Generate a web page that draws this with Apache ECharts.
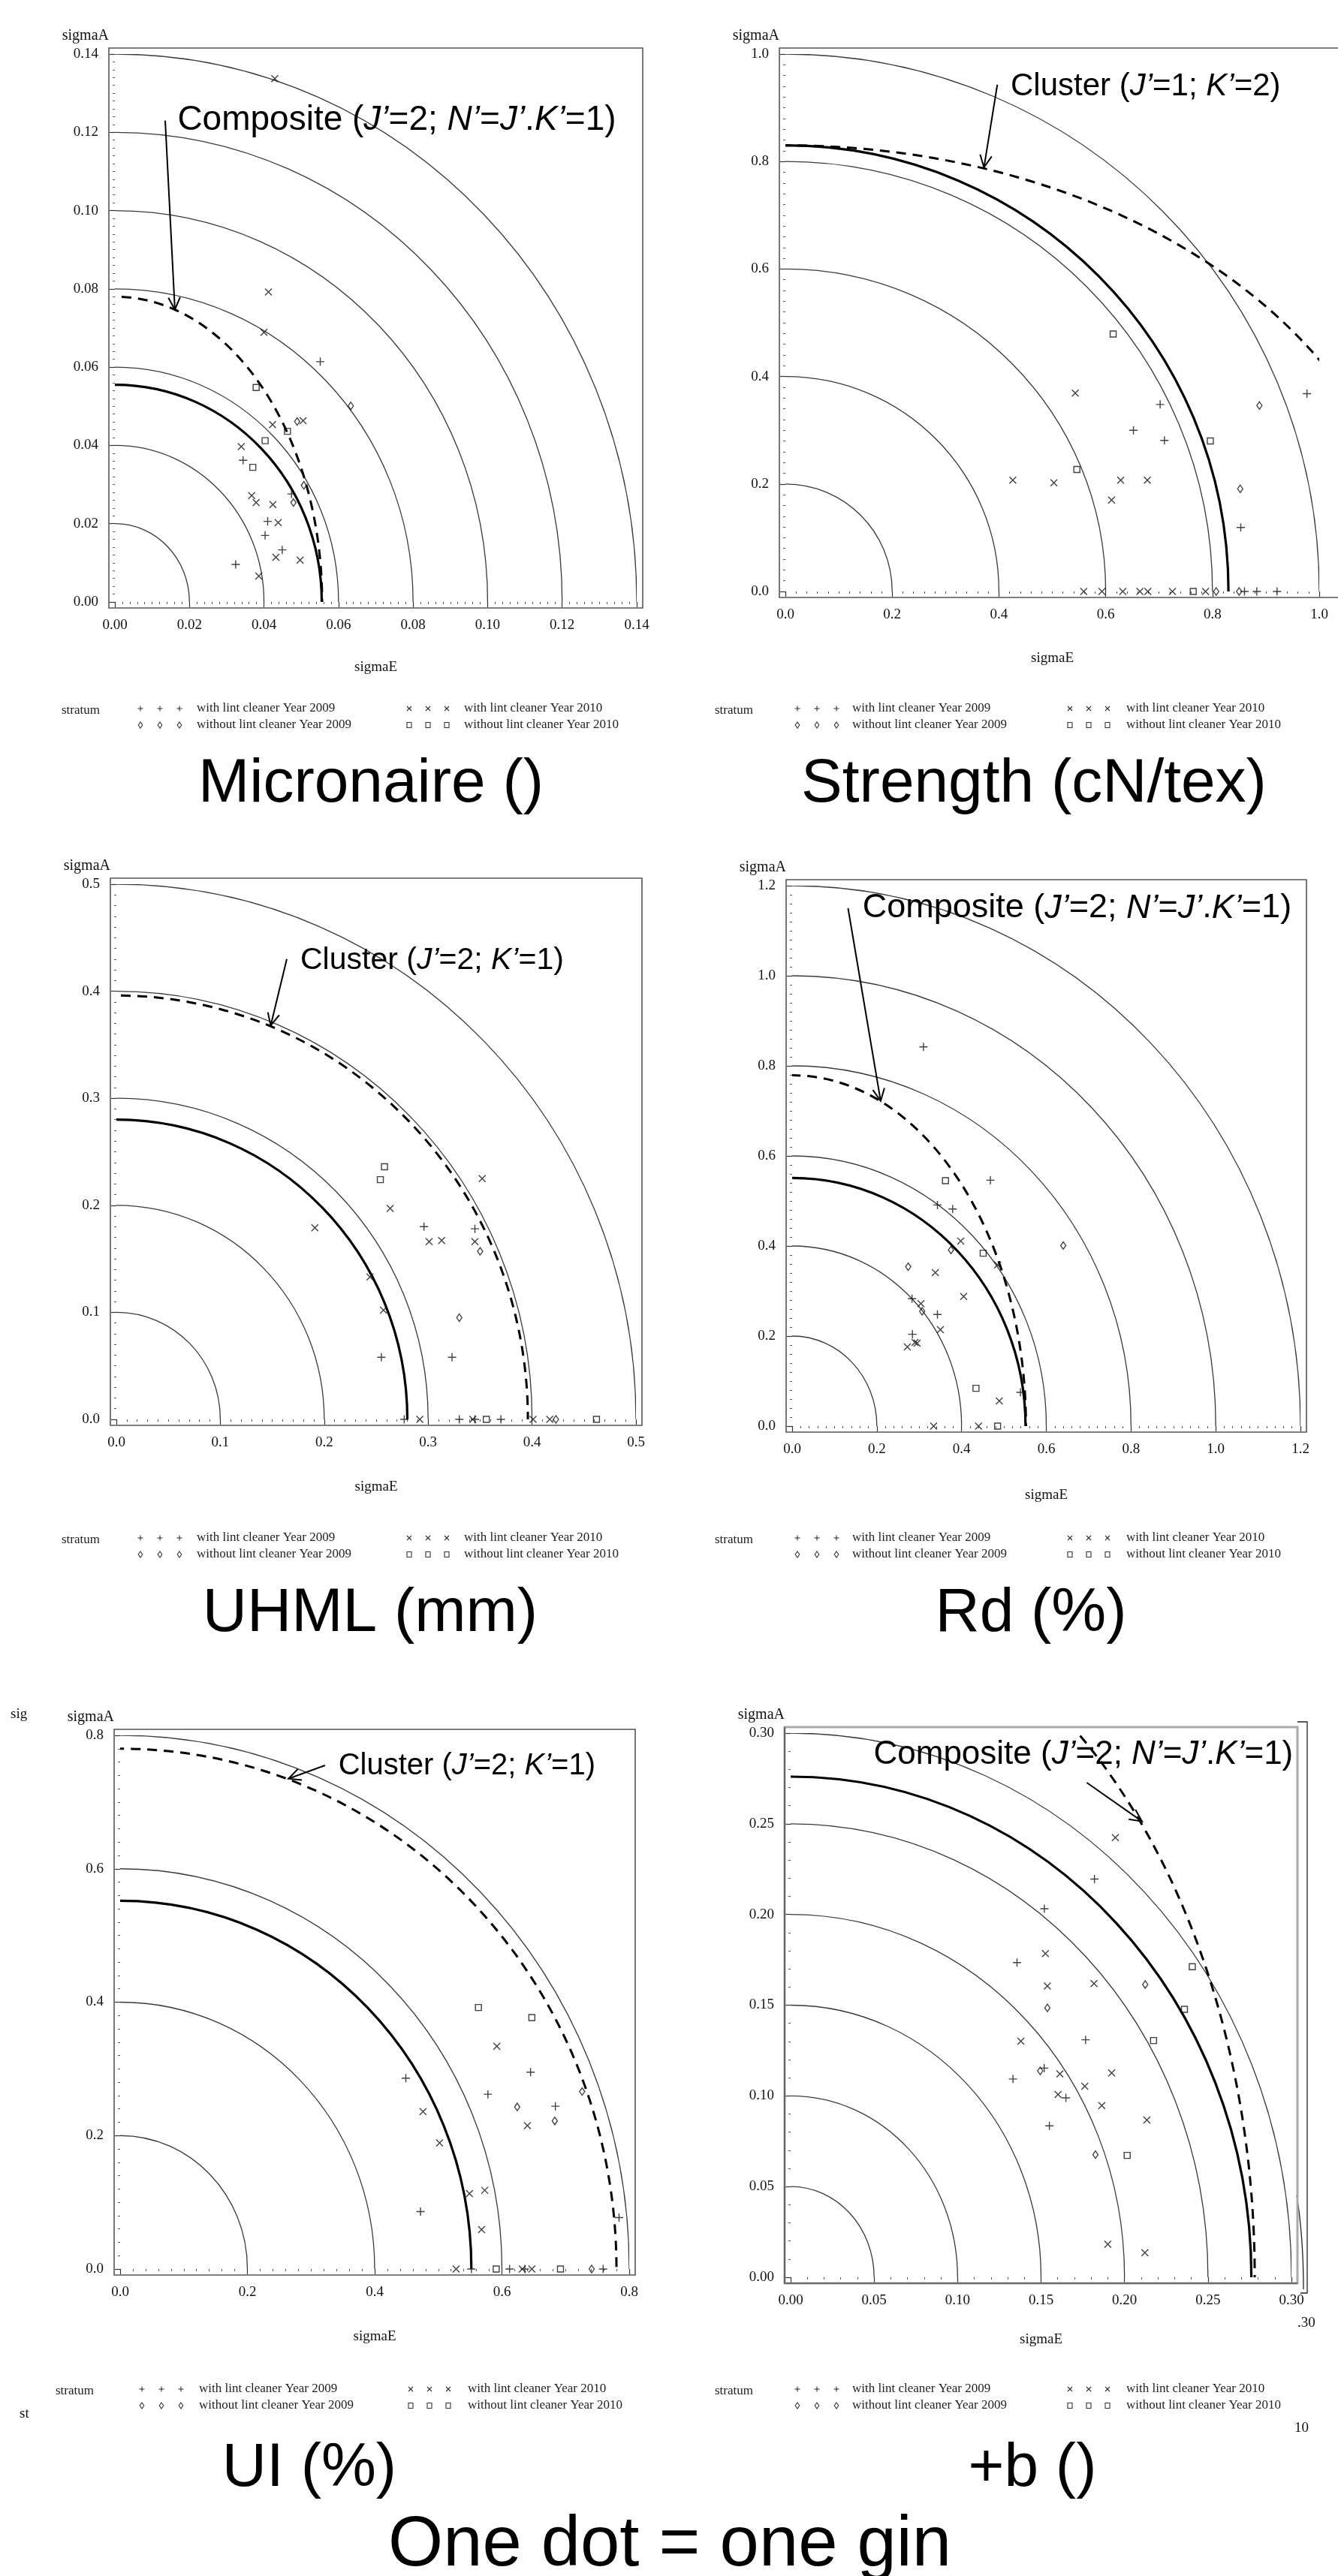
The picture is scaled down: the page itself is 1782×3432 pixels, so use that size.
<!DOCTYPE html>
<html><head><meta charset="utf-8">
<script src="https://cdn.jsdelivr.net/npm/echarts@6/dist/echarts.min.js"></script>
<style>html,body{margin:0;padding:0;background:#fff}#c{width:1782px;height:3432px}</style>
</head><body><div id="c"></div><script>
// ---------------- DATA ----------------
const panelTitles = ['Micronaire ()', 'Strength (cN/tex)', 'UHML (mm)', 'Rd (%)', 'UI (%)', '+b ()'];
const footer = 'One dot = one gin';
const legendLabels = ['with lint cleaner Year 2009', 'without lint cleaner Year 2009', 'with lint cleaner Year 2010', 'without lint cleaner Year 2010'];
const axisMax = [0.14, 1.0, 0.5, 1.2, 0.8, 0.30];
const axisStep = [0.02, 0.2, 0.1, 0.2, 0.2, 0.05];
const axisDecimals = [2, 1, 1, 1, 1, 2];

// reference circles (sigmaE^2 + sigmaA^2 = r^2)
const micRings = [0.02, 0.04, 0.06, 0.08, 0.10, 0.12, 0.14];
const strRings = [0.2, 0.4, 0.6, 0.8, 1.0];
const uhmlRings = [0.1, 0.2, 0.3, 0.4, 0.5];
const rdRings = [0.2, 0.4, 0.6, 0.8, 1.0, 1.2];
const uiRings = [0.2, 0.4, 0.6, 0.8];
const bRings = [0.05, 0.10, 0.15, 0.20, 0.25, 0.30];
// bold solid reference curve radius
const solidRadius = [0.0555, 0.83, 0.28, 0.551, 0.552, 0.276];
// dashed curve semi-axes [sigmaE, sigmaA]
const dashedAxes = [[0.0556, 0.078], [1.17, 0.83], [0.396, 0.396], [0.552, 0.779], [0.78, 0.78], [0.278, 0.382]];

// Micronaire
const micPlus09 = [[0.0551,0.0614],[0.0344,0.0362],[0.0474,0.0276],[0.0410,0.0206],[0.0403,0.0170],[0.0449,0.0133],[0.0324,0.0096]];
const micCross10 = [[0.0429,0.1337],[0.0412,0.0792],[0.0400,0.0689],[0.0423,0.0453],[0.0505,0.0463],[0.0339,0.0397],[0.0367,0.0272],[0.0379,0.0254],[0.0424,0.0249],[0.0438,0.0203],[0.0432,0.0114],[0.0497,0.0107],[0.0386,0.0066]];
const micDiam09 = [[0.0633,0.0501],[0.0489,0.0461],[0.0507,0.0298],[0.0479,0.0254]];
const micSq10 = [[0.0379,0.0548],[0.0463,0.0436],[0.0403,0.0412],[0.0370,0.0344]];
// Strength
const strPlus09 = [[0.977,0.368],[0.702,0.348],[0.652,0.300],[0.710,0.281],[0.853,0.119],[0.860,0],[0.883,0],[0.921,0]];
const strCross10 = [[0.543,0.369],[0.426,0.207],[0.503,0.202],[0.628,0.207],[0.678,0.207],[0.611,0.170],[0.559,0],[0.593,0],[0.632,0],[0.664,0],[0.679,0],[0.725,0],[0.787,0]];
const strDiam09 = [[0.888,0.346],[0.852,0.191],[0.807,0],[0.850,0]];
const strSq10 = [[0.614,0.479],[0.796,0.280],[0.546,0.227],[0.764,0]];
// UHML
const uhmlPlus09 = [[0.296,0.180],[0.345,0.178],[0.255,0.058],[0.323,0.058],[0.277,0],[0.330,0],[0.345,0],[0.370,0]];
const uhmlCross10 = [[0.352,0.225],[0.2635,0.197],[0.191,0.179],[0.301,0.166],[0.313,0.167],[0.345,0.166],[0.244,0.133],[0.257,0.102],[0.292,0],[0.343,0],[0.401,0],[0.417,0]];
const uhmlDiam09 = [[0.350,0.157],[0.330,0.095],[0.423,0]];
const uhmlSq10 = [[0.258,0.236],[0.254,0.224],[0.356,0],[0.462,0]];
// Rd
const rdPlus09 = [[0.310,0.842],[0.468,0.546],[0.343,0.491],[0.379,0.482],[0.283,0.283],[0.343,0.248],[0.284,0.204],[0.539,0.075]];
const rdCross10 = [[0.398,0.411],[0.338,0.341],[0.485,0.358],[0.405,0.288],[0.304,0.272],[0.350,0.214],[0.295,0.184],[0.290,0.186],[0.272,0.176],[0.489,0.056],[0.334,0],[0.440,0]];
const rdDiam09 = [[0.375,0.391],[0.640,0.401],[0.274,0.354],[0.307,0.255]];
const rdSq10 = [[0.362,0.545],[0.451,0.384],[0.434,0.084],[0.485,0]];
// UI
const uiPlus09 = [[0.449,0.286],[0.645,0.295],[0.578,0.262],[0.684,0.244],[0.472,0.086],[0.784,0.077],[0.552,0],[0.612,0],[0.636,0],[0.759,0]];
const uiCross10 = [[0.592,0.334],[0.476,0.236],[0.640,0.215],[0.502,0.189],[0.549,0.113],[0.573,0.118],[0.568,0.059],[0.528,0],[0.632,0],[0.647,0]];
const uiDiam09 = [[0.726,0.266],[0.624,0.243],[0.683,0.222],[0.741,0]];
const uiSq10 = [[0.563,0.392],[0.647,0.377],[0.591,0],[0.692,0]];
// +b
const bPlus09 = [[0.182,0.2195],[0.152,0.2032],[0.1356,0.1735],[0.1767,0.1309],[0.1519,0.1153],[0.1332,0.1093],[0.1649,0.0989],[0.155,0.0835]];
const bCross10 = [[0.1945,0.2424],[0.1526,0.1784],[0.1538,0.1606],[0.1817,0.1619],[0.1379,0.1301],[0.1613,0.1121],[0.1923,0.1127],[0.1762,0.1053],[0.1602,0.1008],[0.1864,0.0947],[0.2134,0.0867],[0.19,0.0182],[0.2122,0.0136]];
const bDiam09 = [[0.2124,0.1614],[0.1538,0.1485],[0.1495,0.1138],[0.1826,0.0676]];
const bSq10 = [[0.2406,0.1712],[0.2359,0.1477],[0.2174,0.1305],[0.2016,0.0672]];

// annotations: label, text anchor [x,y], arrow from [x,y] to [x,y] (data coords)
const annotLabels = [
  'Composite ({i|J’}=2; {i|N’}={i|J’}.{i|K’}=1)',
  'Cluster ({i|J’}=1; {i|K’}=2)',
  'Cluster ({i|J’}=2; {i|K’}=1)',
  'Composite ({i|J’}=2; {i|N’}={i|J’}.{i|K’}=1)',
  'Cluster ({i|J’}=2; {i|K’}=1)',
  'Composite ({i|J’}=2; {i|N’}={i|J’}.{i|K’}=1)'
];
const annotAnchor = [[0.0168,0.123],[0.422,0.939],[0.177,0.429],[0.166,1.150],[0.343,0.754],[0.0497,0.288]];
const arrowFrom = [[0.0135,0.123],[0.397,0.943],[0.164,0.430],[0.132,1.150],[0.322,0.755],[0.1774,0.2727]];
const arrowTo = [[0.0161,0.0747],[0.372,0.789],[0.1485,0.368],[0.209,0.722],[0.2645,0.735],[0.2105,0.2513]];

// ---------------- LAYOUT ----------------
const grids = [
  {left:153, top:72, width:695, height:730},
  {left:1046, top:72, width:711, height:716},
  {left:155, top:1178, width:692, height:713},
  {left:1055, top:1180, width:677, height:720},
  {left:160, top:2312, width:678, height:711},
  {left:1053, top:2309, width:667, height:725}
];
const annotFont = [46, 42, 41, 45, 40, 44];
const minorSplit = [10, 10, 10, 10, 10, 5];
const nameGapX = [70, 72, 73, 75, 73, 66];
const PAD = 8;
const titlePos = [[494,1045],[1377,1045],[493,2150],[1373,2150],[412,3289],[1375,3289]];
const legendLayout = [
  {st:82, s1:[187,213,239], t1:262, s2:[545,570,595], t2:618, y1:944, y2:966},
  {st:952, s1:[1062,1088,1114], t1:1135, s2:[1425,1450,1475], t2:1500, y1:944, y2:966},
  {st:82, s1:[187,213,239], t1:262, s2:[545,570,595], t2:618, y1:2049, y2:2071},
  {st:952, s1:[1062,1088,1114], t1:1135, s2:[1425,1450,1475], t2:1500, y1:2049, y2:2071},
  {st:74, s1:[189,215,241], t1:265, s2:[547,572,597], t2:623, y1:3183, y2:3205},
  {st:952, s1:[1062,1088,1114], t1:1135, s2:[1425,1450,1475], t2:1500, y1:3183, y2:3205}
];

const seriesData = [
  [micPlus09, micCross10, micDiam09, micSq10],
  [strPlus09, strCross10, strDiam09, strSq10],
  [uhmlPlus09, uhmlCross10, uhmlDiam09, uhmlSq10],
  [rdPlus09, rdCross10, rdDiam09, rdSq10],
  [uiPlus09, uiCross10, uiDiam09, uiSq10],
  [bPlus09, bCross10, bDiam09, bSq10]
];
const ringSets = [micRings, strRings, uhmlRings, rdRings, uiRings, bRings];

const SERIF = 'Liberation Serif, DejaVu Serif, serif';
const SANS = 'Liberation Sans, Arial, sans-serif';
const symbols = [
  {symbol:'path://M0,5L10,5M5,0L5,10', size:11},
  {symbol:'path://M0,0L10,10M10,0L0,10', size:9},
  {symbol:'diamond', size:[7,10]},
  {symbol:'rect', size:8}
];

function ellipseRender(style){
  return function(params, api){
    const c = api.coord([0,0]);
    const ex = api.coord([api.value(0),0]);
    const ey = api.coord([0,api.value(1)]);
    return {type:'ellipse', shape:{cx:c[0], cy:c[1], rx:Math.abs(ex[0]-c[0]), ry:Math.abs(c[1]-ey[1])},
      style:Object.assign({fill:'none'}, style)};
  };
}

// small legend marker built from graphic primitives
function legendMarker(kind, x, y){
  const st = {stroke:'#333', lineWidth:1.1, fill:'none'};
  if (kind === 0) return [
    {type:'line', silent:true, shape:{x1:x-3.5, y1:y, x2:x+3.5, y2:y}, style:st},
    {type:'line', silent:true, shape:{x1:x, y1:y-3.5, x2:x, y2:y+3.5}, style:st}];
  if (kind === 2) return [
    {type:'line', silent:true, shape:{x1:x-3, y1:y-3, x2:x+3, y2:y+3}, style:st},
    {type:'line', silent:true, shape:{x1:x+3, y1:y-3, x2:x-3, y2:y+3}, style:st}];
  if (kind === 1) return [
    {type:'polygon', silent:true, shape:{points:[[x,y-4],[x+2.8,y],[x,y+4],[x-2.8,y]]}, style:st}];
  return [{type:'rect', silent:true, shape:{x:x-3, y:y-3.5, width:6, height:7}, style:st}];
}

const xAxes = [], yAxes = [], series = [], graphic = [];
grids.forEach((g, i) => {
  const dec = axisDecimals[i];
  const common = {
    gridIndex:i, type:'value', min:0, max:axisMax[i], interval:axisStep[i], offset:PAD,
    axisLine:{show:false},
    axisTick:{show:true, length:7, lineStyle:{color:'#333', width:1.2}},
    minorTick:{show:true, splitNumber:minorSplit[i], length:3, lineStyle:{color:'#555', width:1}},
    splitLine:{show:false}, minorSplitLine:{show:false},
    axisLabel:{fontFamily:SERIF, fontSize:19, color:'#111', margin:14, formatter:v => v.toFixed(dec)}
  };
  xAxes.push(Object.assign({}, common, {name:'sigmaE', nameLocation:'middle', nameGap:nameGapX[i],
    nameTextStyle:{fontFamily:SERIF, fontSize:19, color:'#111'}}));
  yAxes.push(Object.assign({}, common, {name:'sigmaA', nameLocation:'end', nameGap:14,
    nameTextStyle:{fontFamily:SERIF, fontSize:20, color:'#111', align:'right', verticalAlign:'bottom', padding:[0,8,0,0]}}));

  series.push({type:'custom', xAxisIndex:i, yAxisIndex:i, clip:true, silent:true, z:1,
    data:ringSets[i].map(r => [r, r]), renderItem:ellipseRender({stroke:'#3a3a3a', lineWidth:1.3})});
  series.push({type:'custom', xAxisIndex:i, yAxisIndex:i, clip:true, silent:true, z:2,
    data:[[solidRadius[i], solidRadius[i]]], renderItem:ellipseRender({stroke:'#000', lineWidth:3.2})});
  series.push({type:'custom', xAxisIndex:i, yAxisIndex:i, clip:true, silent:true, z:2,
    data:[dashedAxes[i]], renderItem:ellipseRender({stroke:'#000', lineWidth:3, lineDash:[13,9]})});

  seriesData[i].forEach((d, k) => {
    series.push({type:'scatter', name:legendLabels[k], xAxisIndex:i, yAxisIndex:i, data:d, silent:true, z:5,
      symbol:symbols[k].symbol, symbolSize:symbols[k].size,
      itemStyle:{color:'none', borderColor:'#111', borderWidth:1.4}});
  });

  // annotation
  const lab = annotLabels[i], fs = annotFont[i];
  series.push({type:'custom', xAxisIndex:i, yAxisIndex:i, clip:false, silent:true, z:6,
    data:[[annotAnchor[i][0], annotAnchor[i][1], arrowFrom[i][0], arrowFrom[i][1], arrowTo[i][0], arrowTo[i][1]]],
    renderItem:function(params, api){
      const t = api.coord([api.value(0), api.value(1)]);
      const p0 = api.coord([api.value(2), api.value(3)]);
      const p1 = api.coord([api.value(4), api.value(5)]);
      const dx = p1[0]-p0[0], dy = p1[1]-p0[1], len = Math.sqrt(dx*dx+dy*dy);
      const ux = dx/len, uy = dy/len, L = 18, th = 0.45;
      const w1 = [p1[0] - L*(ux*Math.cos(th) - uy*Math.sin(th)), p1[1] - L*(uy*Math.cos(th) + ux*Math.sin(th))];
      const w2 = [p1[0] - L*(ux*Math.cos(-th) - uy*Math.sin(-th)), p1[1] - L*(uy*Math.cos(-th) + ux*Math.sin(-th))];
      return {type:'group', children:[
        {type:'line', shape:{x1:p0[0], y1:p0[1], x2:p1[0], y2:p1[1]}, style:{stroke:'#000', lineWidth:2}},
        {type:'polyline', shape:{points:[w1, p1, w2]}, style:{stroke:'#000', lineWidth:2, fill:'none'}},
        {type:'text', x:t[0], y:t[1], style:{text:lab, fontSize:fs, fontFamily:SANS, fill:'#000',
          align:'left', verticalAlign:'middle',
          rich:{i:{fontStyle:'italic', fontSize:fs, fontFamily:SANS, fill:'#000'}}}}
      ]};
    }});

  // frame
  const fx = g.left-PAD, fy = g.top-PAD, fw = g.width+2*PAD, fh = g.height+2*PAD;
  if (i === 1) {
    graphic.push({type:'polyline', silent:true, z:10, shape:{points:[[1782,fy],[fx,fy],[fx,fy+fh],[1782,fy+fh]]},
      style:{stroke:'#555', lineWidth:1.6, fill:'none'}});
  } else if (i === 5) {
    graphic.push({type:'rect', silent:true, z:10, shape:{x:fx, y:fy, width:fw, height:fh}, style:{stroke:'#aaa', lineWidth:3, fill:'none'}});
    graphic.push({type:'polyline', silent:true, z:11, shape:{points:[[fx,fy],[fx,fy+fh],[fx+fw,fy+fh]]}, style:{stroke:'#555', lineWidth:1.6, fill:'none'}});
  } else {
    graphic.push({type:'rect', silent:true, z:10, shape:{x:fx, y:fy, width:fw, height:fh}, style:{stroke:'#555', lineWidth:1.6, fill:'none'}});
  }

  // legend
  const L = legendLayout[i];
  graphic.push({type:'text', silent:true, x:L.st, y:L.y1 + 3, style:{text:'stratum', font:'17px ' + SERIF, fill:'#222', verticalAlign:'middle'}});
  [[L.s1, L.t1, 0, L.y1], [L.s1, L.t1, 1, L.y2], [L.s2, L.t2, 2, L.y1], [L.s2, L.t2, 3, L.y2]].forEach(([sx, tx, k, y]) => {
    sx.forEach(x => legendMarker(k, x, y).forEach(el => graphic.push(el)));
    graphic.push({type:'text', silent:true, x:tx, y:y, style:{text:legendLabels[k], font:'17px ' + SERIF, fill:'#222', align:'left', verticalAlign:'middle'}});
  });

  // title
  graphic.push({type:'text', silent:true, x:titlePos[i][0], y:titlePos[i][1], style:{text:panelTitles[i], font:'82px ' + SANS, fill:'#000', align:'center', verticalAlign:'middle'}});
});

// footer and stray fragments from the source image
graphic.push({type:'text', silent:true, x:892, y:3392, style:{text:footer, font:'94px ' + SANS, fill:'#000', align:'center', verticalAlign:'middle'}});
graphic.push({type:'text', silent:true, x:14, y:2284, style:{text:'sig', font:'19px ' + SERIF, fill:'#111', verticalAlign:'middle'}});
graphic.push({type:'text', silent:true, x:26, y:3216, style:{text:'st', font:'19px ' + SERIF, fill:'#111', verticalAlign:'middle'}});
graphic.push({type:'text', silent:true, x:1728, y:3095, style:{text:'.30', font:'19px ' + SERIF, fill:'#111', verticalAlign:'middle'}});
graphic.push({type:'text', silent:true, x:1724, y:3235, style:{text:'10', font:'19px ' + SERIF, fill:'#111', verticalAlign:'middle'}});
graphic.push({type:'polyline', silent:true, shape:{points:[[1728,2294],[1741,2294],[1741,3055],[1732,3055]]}, style:{stroke:'#222', lineWidth:1.3, fill:'none'}});
graphic.push({type:'bezierCurve', silent:true, shape:{x1:1727, y1:2925, cpx1:1736, cpy1:2980, x2:1736, y2:3050}, style:{stroke:'#222', lineWidth:1.3, fill:'none'}});

const chart = echarts.init(document.getElementById('c'), null, {width:1782, height:3432});
chart.setOption({
  animation:false,
  backgroundColor:'#fff',
  grid:grids.map(g => Object.assign({containLabel:false, outerBoundsMode:'none'}, g)),
  xAxis:xAxes, yAxis:yAxes, series:series, graphic:graphic
});
</script></body></html>
